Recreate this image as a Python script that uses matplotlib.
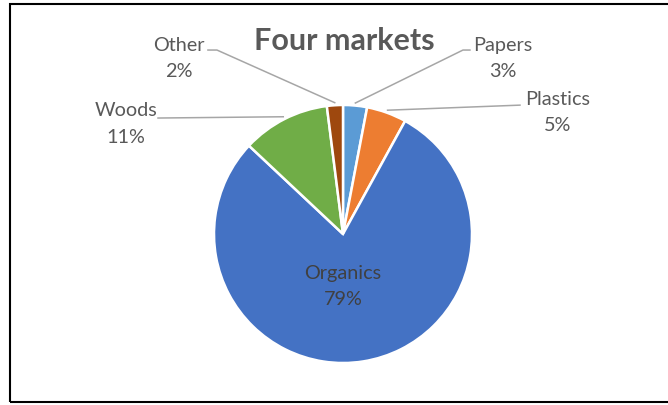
import numpy as np
import matplotlib
matplotlib.use("Agg")
import matplotlib.pyplot as plt
from matplotlib.patches import Rectangle

# data
labels = ["Papers", "Plastics", "Organics", "Woods", "Other"]
shares = [3, 5, 79, 11, 2]
colors = ["#5B9BD5", "#ED7D31", "#4472C4", "#70AD47", "#9E480E"]

# label layout (data coords, pie radius = 1): text centre, line end at text, knee
label_pos = {
    "Papers":   ((1.24, 1.37),  (0.984, 1.426), (0.93, 1.426)),
    "Plastics": ((1.665, 0.95), (1.372, 0.999), None),
    "Woods":    ((-1.68, 0.86), (-1.434, 0.899), None),
    "Other":    ((-1.27, 1.37), (-1.047, 1.426), (-0.977, 1.426)),
}

plt.rcParams['font.family'] = ['Lato', 'DejaVu Sans']
txt_col = "#595959"
line_col = "#A6A6A6"
fs = 14.3
lsp = 1.68

W, H = 668, 406
fig = plt.figure(figsize=(W / 100, H / 100), dpi=100)
cx, cy, r = 343, 235, 129
ax = fig.add_axes([(cx - r) / W, (H - cy - r) / H, 2 * r / W, 2 * r / H])

wedges, _ = ax.pie(shares, colors=colors, startangle=90, counterclock=False,
                   wedgeprops=dict(edgecolor="white", linewidth=1.8))
ax.set_xlim(-1, 1)
ax.set_ylim(-1, 1)
ax.set_aspect("equal")

for w, lab, val in zip(wedges, labels, shares):
    text = f"{lab}\n{val}%"
    if lab == "Organics":
        ax.text(0, -0.40, text, ha="center", va="center", fontsize=fs,
                color="#404040", linespacing=lsp)
        continue
    (tx, ty), end, knee = label_pos[lab]
    ang = np.deg2rad((w.theta1 + w.theta2) / 2)
    start = (1.02 * np.cos(ang), 1.02 * np.sin(ang))
    pts = [start] + ([knee] if knee else []) + [end]
    xs, ys = zip(*pts)
    ax.plot(xs, ys, color=line_col, lw=1.1, clip_on=False)
    ax.text(tx, ty, text, ha="center", va="center", fontsize=fs,
            color=txt_col, linespacing=lsp, clip_on=False)

fig.text(344 / W, 1 - 41 / H, "Four markets", ha="center", va="center",
         fontsize=22, fontweight="bold", color=txt_col)

# chart frame
fig.patches.append(Rectangle((10 / W, 3 / H), 1.0, (H - 8) / H,
                             transform=fig.transFigure, fill=False,
                             edgecolor="black", lw=1.5))

fig.savefig("out.png", dpi=100)
